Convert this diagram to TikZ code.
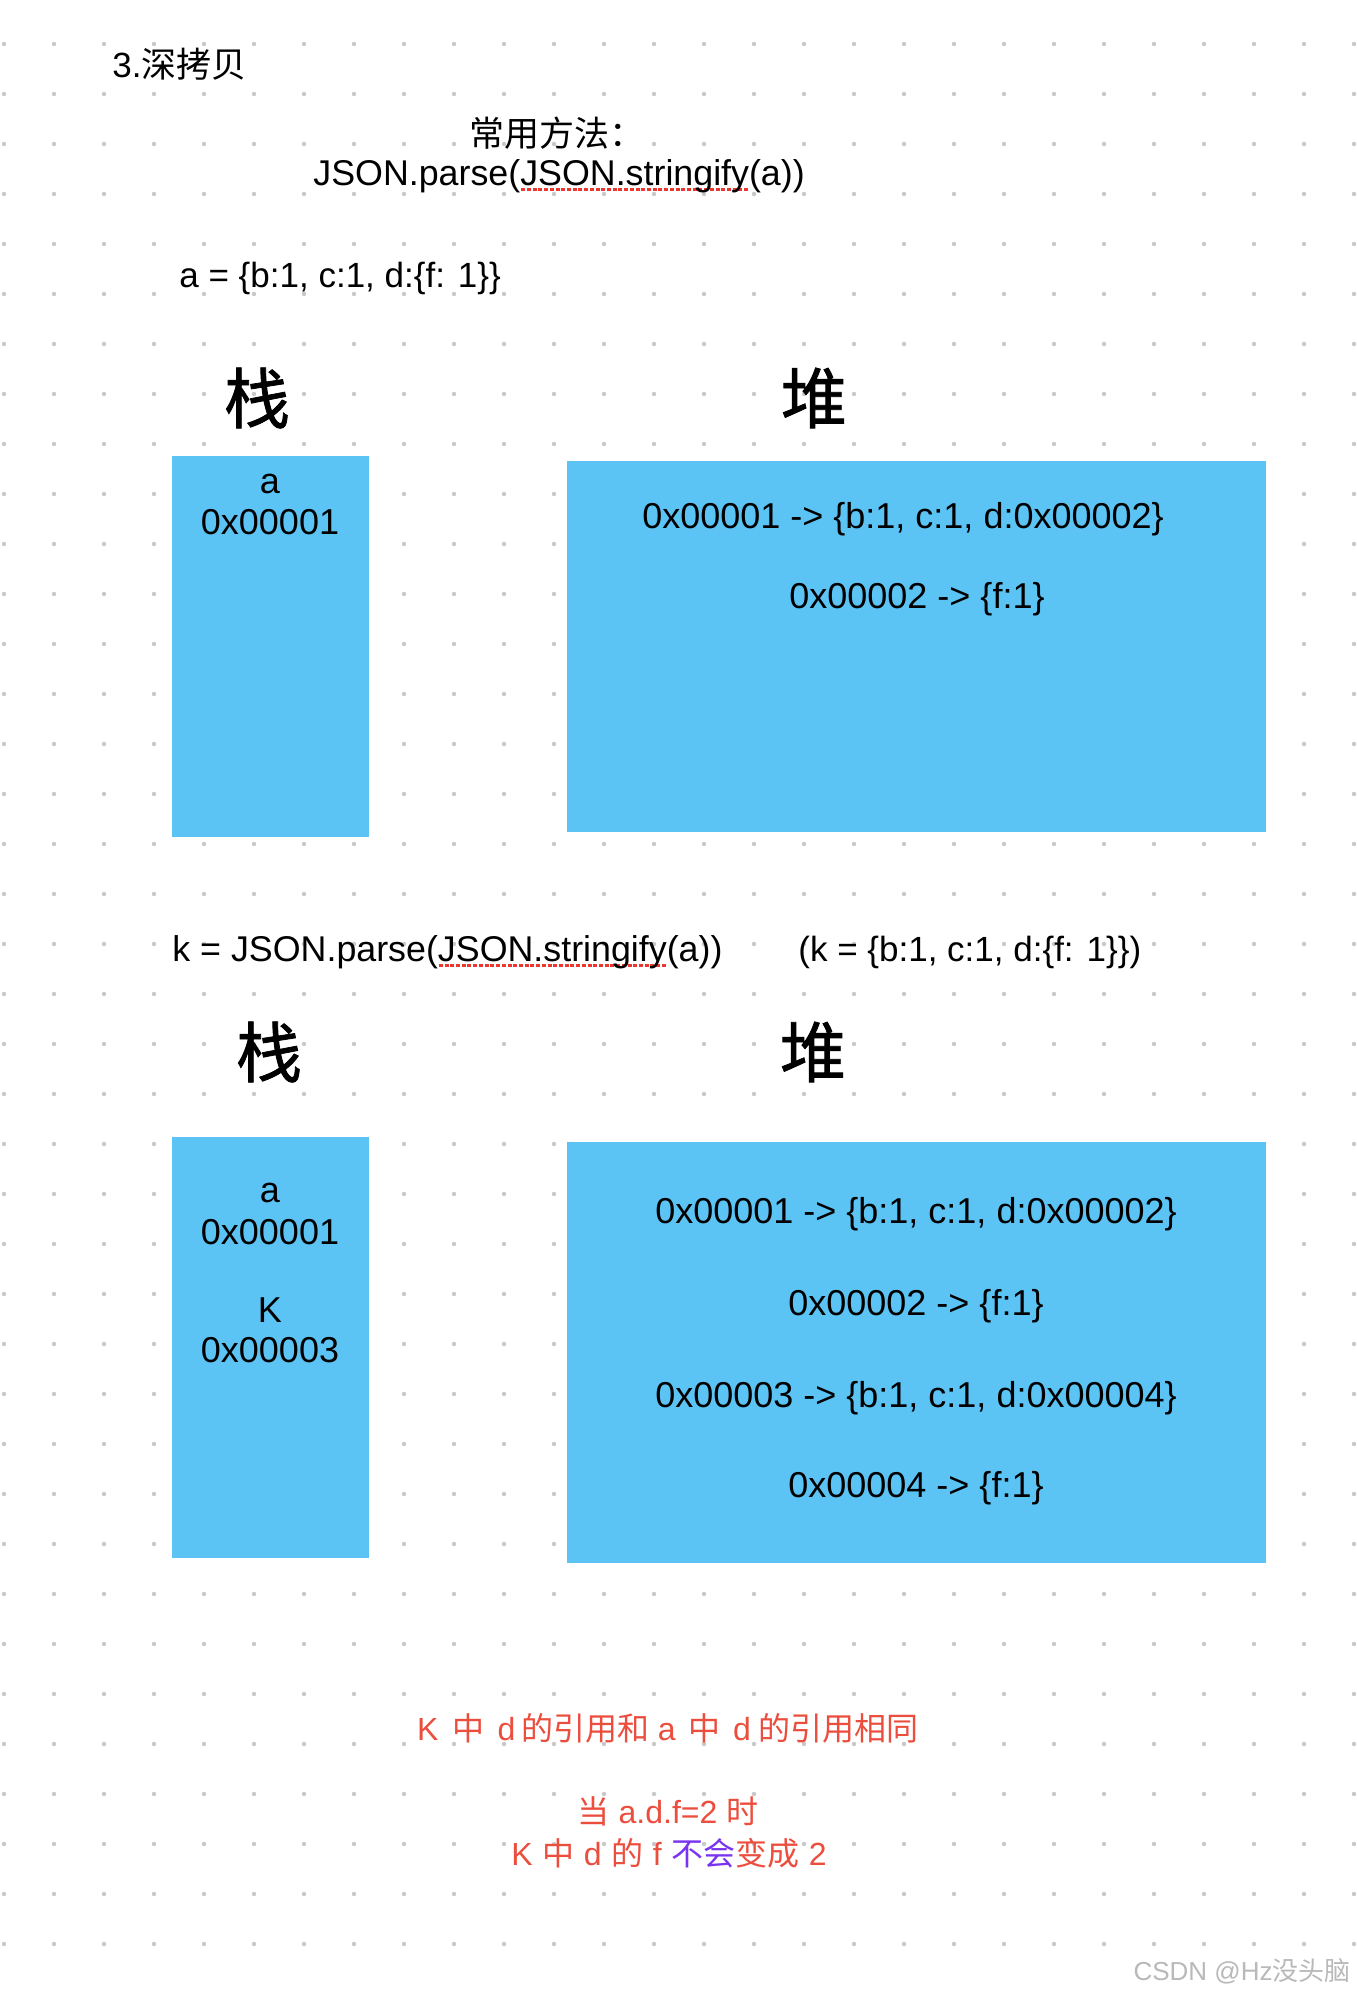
\documentclass[tikz,border=0pt]{standalone}
\usepackage{fontspec}
\setmainfont{Liberation Sans}
\newfontfamily\cjk{Noto Sans CJK SC}
\newfontfamily\cjkmed{Noto Sans CJK SC}[FakeBold=1.2]
\definecolor{boxblue}{RGB}{91,196,245}
\definecolor{dotgray}{RGB}{200,200,200}
\definecolor{notered}{RGB}{236,78,62}
\definecolor{notepurple}{RGB}{122,52,240}
\definecolor{ulred}{RGB}{235,55,45}
\definecolor{wmgray}{RGB}{185,185,185}
\newcommand\cj[1]{{\cjk #1}}
\newcommand\gp{\hspace{0.3em}}
\newcommand\redul[1]{\setbox0=\hbox{#1}\rlap{\color{ulred}\xleaders\hbox to 2.8pt{\hss\rule[-2.8pt]{2pt}{1.4pt}\hss}\hskip\wd0}\box0}
\begin{document}
\begin{tikzpicture}[x=0.5pt,y=-0.5pt,
  memblock/.style={fill=boxblue, draw=none, inner sep=0pt},
  body/.style={inner sep=0pt, font=\fontsize{17.5}{21}\selectfont},
  code/.style={inner sep=0pt, font=\fontsize{17.9}{21}\selectfont},
  boxtext/.style={inner sep=0pt, anchor=base, font=\fontsize{18}{22}\selectfont},
  biglabel/.style={inner sep=0pt, anchor=center, font=\fontsize{33}{36}\selectfont\cjkmed},
  note/.style={inner sep=0pt, anchor=base, text=notered, font=\fontsize{16}{19}\selectfont}]
\useasboundingbox (0,0) rectangle (1356,1992);
\fill[white] (0,0) rectangle (1356,1992);
% dot grid
\foreach \i in {0,...,27}{
  \foreach \j in {0,...,38}{
    \fill[dotgray] (4+50*\i,44+50*\j) circle (1.1pt);
  }
}
% memory blocks
\node[memblock, minimum width=98.5pt, minimum height=190.5pt] (stackA) at (270.5,646.5) {};
\node[memblock, minimum width=349.5pt, minimum height=185.5pt] (heapA) at (916.5,646.5) {};
\node[memblock, minimum width=98.5pt, minimum height=210.5pt] (stackB) at (270.5,1347.5) {};
\node[memblock, minimum width=349.5pt, minimum height=210.5pt] (heapB) at (916.5,1352.5) {};
% header texts
\node[body, anchor=base west] (title) at (112,77) {3.\cj{深拷贝}};
\node[body, anchor=base] (method1) at (557,146) {\cj{常用方法：}};
\node[code, anchor=base west] (method2) at (313,185) {JSON.parse(\redul{JSON.stringify}(a))};
\node[body, anchor=base west] (objA) at (179,287) {a = \{b:1, c:1, d:\{f: 1\}\}};
% section 1
\node[biglabel] (stackLabelA) at (257,398) {栈};
\node[biglabel] (heapLabelA) at (814,398) {堆};
\node[boxtext] (sAa) at (270,493) {a};
\node[boxtext] (sAaddr) at (270,534) {0x00001};
\node[boxtext] (hA1) at (903,528) {0x00001 -> \{b:1, c:1, d:0x00002\}};
\node[boxtext] (hA2) at (917,608) {0x00002 -> \{f:1\}};
% section 2
\node[code, anchor=base west] (kline) at (172,961) {k = JSON.parse(\redul{JSON.stringify}(a))};
\node[body, anchor=base west] (kvalue) at (798,961) {(k = \{b:1, c:1, d:\{f: 1\}\})};
\node[biglabel] (stackLabelB) at (269,1052) {栈};
\node[biglabel] (heapLabelB) at (813,1052) {堆};
\node[boxtext] (sBa) at (270,1202) {a};
\node[boxtext] (sBaaddr) at (270,1244) {0x00001};
\node[boxtext] (sBk) at (270,1322) {K};
\node[boxtext] (sBkaddr) at (270,1362) {0x00003};
\node[boxtext] (hB1) at (916,1223) {0x00001 -> \{b:1, c:1, d:0x00002\}};
\node[boxtext] (hB2) at (916,1315) {0x00002 -> \{f:1\}};
\node[boxtext] (hB3) at (916,1407) {0x00003 -> \{b:1, c:1, d:0x00004\}};
\node[boxtext] (hB4) at (916,1497) {0x00004 -> \{f:1\}};
% notes
\node[note] (note1) at (668,1740) {K\hspace{0.45em}\cj{中}\hspace{0.4em}d\hspace{0.2em}\cj{的引用和}\hspace{0.25em}a\hspace{0.4em}\cj{中}\hspace{0.4em}d\hspace{0.25em}\cj{的引用相同}};
\node[note] (note2) at (668,1823) {\cj{当}\gp a.d.f=2\gp\cj{时}};
\node[note] (note3) at (669,1865) {K\gp\cj{中}\gp d\gp\cj{的}\gp f\gp\textcolor{notepurple}{\cj{不会}}\cj{变成}\gp 2};
% watermark
\node[inner sep=0pt, anchor=base east, text=wmgray, font=\fontsize{13}{15}\selectfont] (wm) at (1351,1980) {CSDN @Hz\cj{没头脑}};
\end{tikzpicture}
\end{document}
